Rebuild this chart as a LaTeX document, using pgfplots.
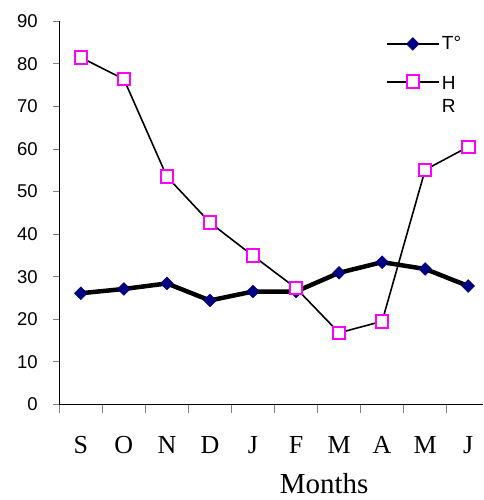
\documentclass[border=0pt]{standalone}
\usepackage{fontspec}
\setmainfont{Liberation Serif}
\newfontfamily\arial{Liberation Sans}
\usepackage{pgfplots}
\pgfplotsset{compat=1.18}
\definecolor{navyT}{HTML}{000080}
\definecolor{magHR}{HTML}{FF00FF}
\begin{document}
\begin{tikzpicture}[x=1pt,y=1pt]
\useasboundingbox (-59.3,-95.7) rectangle (423.7,404.3);
\begin{axis}[
  at={(0,0)}, anchor=south west, scale only axis,
  width=423.7pt, height=383pt,
  xmin=-0.5, xmax=9.344, ymin=0, ymax=90,
  axis lines=left, axis line style={-, black, line width=1pt},
  ytick={0,10,...,90},
  xtick={0,...,9}, xticklabels={S,O,N,D,J,F,M,A,M,J},
  minor xtick={-0.5,0.5,...,8.5},
  tick align=outside,
  major tick length=6pt, minor tick length=9pt,
  major x tick style={draw=none},
  minor x tick style={gray, line width=0.8pt},
  y tick style={gray, line width=0.8pt},
  /pgf/number format/assume math mode=true,
  yticklabel style={font=\arial\fontsize{18.5}{20}\selectfont, anchor=east, xshift=-12pt},
  xticklabel style={font=\fontsize{26}{28}\selectfont, anchor=base, yshift=-43pt},
  xlabel={Months},
  xlabel style={font=\fontsize{29}{30}\selectfont, inner sep=0pt, at={(axis description cs:0.625,0)}, anchor=base, yshift=-89pt},
  legend image code/.code={\draw[mark repeat=2,mark phase=2,#1,line width=1.6pt] plot coordinates {(0pt,0pt) (26.3pt,0pt) (52.6pt,0pt)};},
  legend style={draw=none, fill=none, at={(axis description cs:0.77,0.966)}, anchor=north west,
    font=\arial\fontsize{19}{25}\selectfont, row sep=17pt, inner sep=0pt,
    /tikz/every even column/.append style={column sep=4pt}},
  legend cell align=left,
]
\addplot[black, line width=4.5pt, mark=square*, mark size=4.5pt,
  mark options={solid, rotate=45, fill=navyT, draw=navyT, line width=0.5pt}]
  coordinates {(0,26.1) (1,27.1) (2,28.4) (3,24.4) (4,26.5) (5,26.5) (6,30.9) (7,33.4) (8,31.8) (9,27.8)};
\addlegendentry{T°}
\addplot[black, line width=1.6pt, forget plot]
  coordinates {(0,81.5) (1,76.4) (2,53.5) (3,42.7) (4,34.9) (5,27.3) (6,16.8) (7,19.5) (8,55.1) (9,60.5)};
\addplot[scatter, only marks, mark=square*, mark size=6.3pt, line width=2pt,
  scatter/use mapped color={draw=magHR, fill=white}, mark options={solid}, forget plot]
  coordinates {(0,81.5) (1,76.4) (2,53.5) (3,42.7) (4,34.9) (5,27.3) (6,16.8) (7,19.5) (8,55.1) (9,60.5)};
\addlegendimage{black, line width=1.6pt, mark=square*, mark size=6.3pt, mark options={solid, draw=magHR, fill=white, line width=2pt}}
\addlegendentry{\begin{tabular}[t]{@{}l@{}}H\\[-2pt]R\end{tabular}}
\end{axis}
\end{tikzpicture}
\end{document}
